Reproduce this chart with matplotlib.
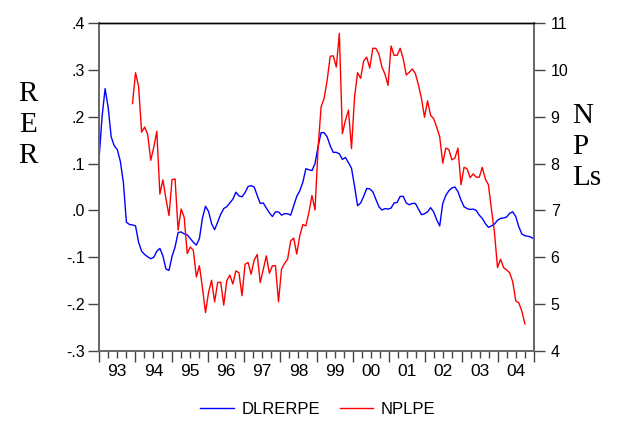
import numpy as np
import matplotlib
matplotlib.use("Agg")
import matplotlib.pyplot as plt
from matplotlib.ticker import FixedLocator, FuncFormatter

plt.rcParams["font.family"] = ["Liberation Sans", "DejaVu Sans"]

# monthly data, 1993M01 - 2004M12
dlrerpe = [0.110, 0.200, 0.260, 0.220, 0.157, 0.138, 0.130, 0.105, 0.060, -0.025, -0.030, -0.031,
           -0.033, -0.068, -0.087, -0.094, -0.099, -0.103, -0.100, -0.087, -0.081, -0.097, -0.125, -0.128,
           -0.098, -0.078, -0.047, -0.046, -0.050, -0.052, -0.060, -0.068, -0.074, -0.060, -0.016, 0.009,
           -0.002, -0.028, -0.041, -0.025, -0.008, 0.004, 0.008, 0.016, 0.024, 0.039, 0.031, 0.029,
           0.038, 0.051, 0.053, 0.050, 0.032, 0.015, 0.016, 0.005, -0.005, -0.013, -0.003, -0.003,
           -0.010, -0.007, -0.007, -0.010, 0.010, 0.030, 0.042, 0.060, 0.089, 0.087, 0.085, 0.100,
           0.136, 0.166, 0.166, 0.157, 0.138, 0.124, 0.124, 0.121, 0.109, 0.113, 0.102, 0.090,
           0.052, 0.010, 0.016, 0.030, 0.047, 0.046, 0.040, 0.024, 0.008, 0.001, 0.004, 0.003,
           0.005, 0.016, 0.017, 0.030, 0.030, 0.016, 0.012, 0.015, 0.015, 0.003, -0.009, -0.007,
           -0.003, 0.006, -0.003, -0.020, -0.033, 0.015, 0.032, 0.042, 0.048, 0.050, 0.040, 0.022,
           0.008, 0.004, 0.002, 0.003, 0.000, -0.010, -0.017, -0.028, -0.036, -0.033, -0.029, -0.021,
           -0.017, -0.016, -0.014, -0.006, -0.003, -0.013, -0.035, -0.050, -0.054, -0.055, -0.057, -0.061]

nan = np.nan
nplpe = [nan, nan, nan, nan, nan, nan, nan, nan, nan, nan, nan, 9.28,
         9.94, 9.65, 8.67, 8.78, 8.62, 8.07, 8.35, 8.69, 7.35, 7.65, 7.25, 6.89,
         7.66, 7.67, 6.58, 7.03, 6.85, 6.08, 6.22, 6.15, 5.58, 5.82, 5.35, 4.82,
         5.25, 5.51, 5.05, 5.46, 5.47, 4.98, 5.50, 5.62, 5.43, 5.71, 5.67, 5.18,
         5.85, 5.89, 5.64, 5.94, 6.06, 5.46, 5.75, 6.03, 5.66, 5.82, 5.82, 5.05,
         5.75, 5.87, 5.96, 6.35, 6.41, 6.07, 6.46, 6.70, 6.67, 6.96, 7.32, 7.01,
         8.32, 9.21, 9.39, 9.78, 10.29, 10.30, 10.06, 10.78, 8.64, 8.92, 9.14, 8.32,
         9.42, 9.94, 9.82, 10.19, 10.27, 10.04, 10.46, 10.46, 10.34, 10.06, 9.91, 9.67,
         10.51, 10.31, 10.31, 10.46, 10.24, 9.89, 9.95, 10.02, 9.92, 9.68, 9.39, 8.99,
         9.34, 9.03, 8.96, 8.78, 8.57, 8.01, 8.33, 8.30, 8.08, 8.12, 8.33, 7.55,
         7.92, 7.89, 7.70, 7.78, 7.71, 7.71, 7.92, 7.67, 7.55, 7.03, 6.53, 5.78,
         5.96, 5.78, 5.73, 5.67, 5.48, 5.07, 5.03, 4.85, 4.58, nan, nan, nan]

years = list(range(1993, 2005))
year_labels = ["%02d" % (y % 100) for y in years]
left_ticks = [-0.3, -0.2, -0.1, 0.0, 0.1, 0.2, 0.3, 0.4]
right_ticks = [4, 5, 6, 7, 8, 9, 10, 11]

n = len(dlrerpe)
t = 1993 + np.arange(n) * 12.0 / (n - 1)

fig = plt.figure(figsize=(6.17, 4.26), dpi=100)
ax = fig.add_axes([0.1605, 0.176, 0.705, 0.770])
ax2 = ax.twinx()

l1, = ax.plot(t, dlrerpe, color="#0000FF", lw=1.0)
l2, = ax2.plot(t, nplpe, color="#FF0000", lw=1.0)

ax.set_xlim(1993, 2005)
ax.set_ylim(-0.3, 0.4)
ax2.set_ylim(4, 11)

def lfmt(v, pos):
    s = "%.1f" % v
    return s.replace("0.", ".")

ax.yaxis.set_major_locator(FixedLocator(left_ticks))
ax.yaxis.set_major_formatter(FuncFormatter(lfmt))
ax2.yaxis.set_major_locator(FixedLocator(right_ticks))

# year ticks and quarter ticks, labels in the middle of the year
ax.xaxis.set_major_locator(FixedLocator(years + [2005]))
ax.xaxis.set_major_formatter(FuncFormatter(lambda v, p: ""))
quarters = [y + q / 4 for y in years for q in (1, 2, 3)]
ax.xaxis.set_minor_locator(FixedLocator(quarters))
ax.tick_params(axis="x", which="major", direction="out", length=8, width=1, color="#444444")
ax.tick_params(axis="x", which="minor", direction="out", length=5, width=1, color="#444444")

sec = ax.secondary_xaxis("bottom")
sec.set_xticks([y + 0.5 for y in years])
sec.set_xticklabels(year_labels)
sec.tick_params(length=0, pad=9, labelsize=12.5)
sec.spines["bottom"].set_visible(False)

ax.tick_params(axis="y", direction="out", length=8, width=1, pad=2, labelsize=11.5, color="#444444")
ax2.tick_params(axis="y", direction="out", length=8, width=1, pad=4, labelsize=11.5, color="#444444")

for a in (ax, ax2):
    for side in ("left", "right", "bottom"):
        a.spines[side].set_color("#666666")
        a.spines[side].set_linewidth(1.2)
    a.spines["top"].set_color("black")
    a.spines["top"].set_linewidth(1.0)

serif = ["Liberation Serif", "DejaVu Serif"]
fig.text(28 / 617, 1 - 125 / 426, "R\nE\nR", ha="center", va="center",
         fontsize=21, family=serif, linespacing=1.25)
fig.text(572 / 617, 1 - 147 / 426, "N\nP\nLs", ha="left", va="center",
         fontsize=21, family=serif, linespacing=1.25)

fig.legend([l1, l2], ["DLRERPE", "NPLPE"], loc="center", bbox_to_anchor=(0.515, 0.038),
           ncol=2, frameon=False, fontsize=12, handlelength=2.0, handletextpad=0.45,
           columnspacing=1.2)

fig.savefig("out.png", dpi=100)
